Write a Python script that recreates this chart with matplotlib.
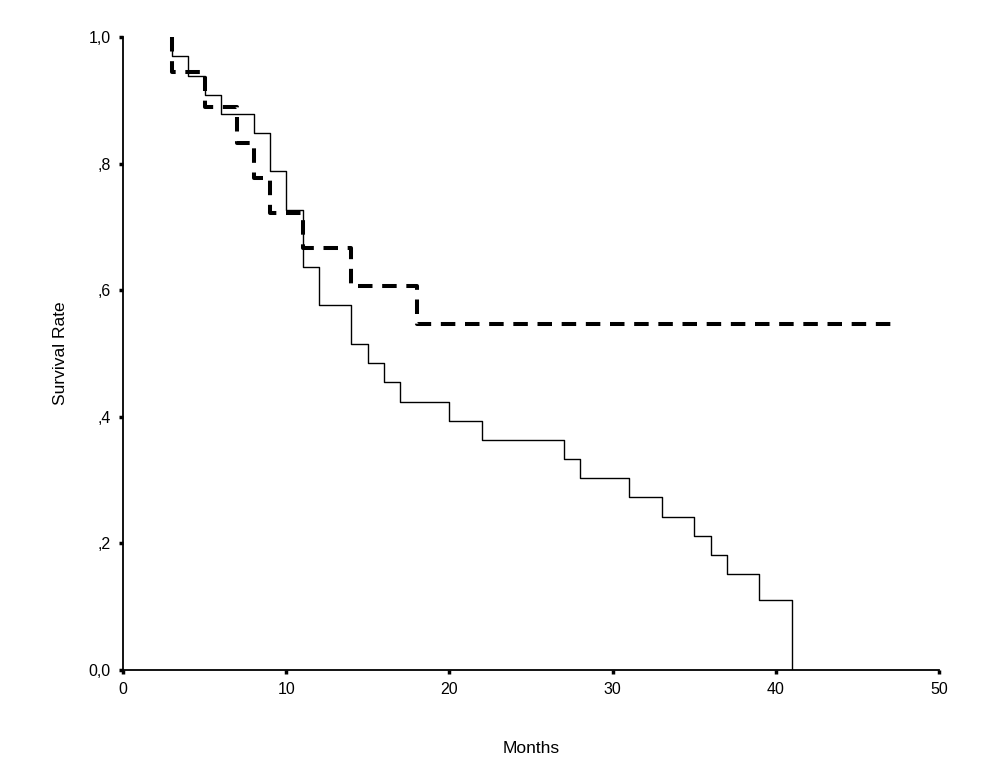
import matplotlib
matplotlib.use('Agg')
import matplotlib.pyplot as plt
import matplotlib as mpl

mpl.rcParams['font.family'] = ['Liberation Sans', 'DejaVu Sans']
mpl.rcParams['font.size'] = 10

# Kaplan-Meier steps (months, survival after the drop)
solid_months = [3, 3, 4, 5, 6, 8, 9, 10, 11, 12, 14, 15, 16, 17, 20, 22,
                27, 28, 31, 33, 35, 36, 37, 39, 41]
solid_surv = [1.0, 0.970, 0.939, 0.909, 0.879, 0.848, 0.788, 0.727, 0.636,
              0.576, 0.515, 0.485, 0.455, 0.424, 0.394, 0.364, 0.333, 0.303,
              0.273, 0.242, 0.212, 0.182, 0.152, 0.111, 0.0]

dash_months = [3, 3, 5, 7, 8, 9, 11, 14, 18, 47.1]
dash_surv = [1.0, 0.944, 0.889, 0.833, 0.778, 0.722, 0.667, 0.606, 0.546, 0.546]

xticks = [0, 10, 20, 30, 40, 50]
yticks = [0.0, 0.2, 0.4, 0.6, 0.8, 1.0]
ytick_labels = ['0,0', ',2', ',4', ',6', ',8', '1,0']

fig = plt.figure(figsize=(9.82, 7.84), dpi=100)
ax = fig.add_axes([123/982, 1-670/784, (939-123)/982, (670-37)/784])

ax.plot(solid_months, solid_surv, drawstyle='steps-post', color='black', lw=1.0)
ax.plot(dash_months, dash_surv, drawstyle='steps-post', color='black', lw=2.9,
        linestyle=(0, (3.6, 2.4)), dash_capstyle='butt')

ax.set_xlim(0, 50)
ax.set_ylim(0, 1.0)
ax.set_xticks(xticks)
ax.set_yticks(yticks)
ax.set_yticklabels(ytick_labels)

for s in ['top', 'right']:
    ax.spines[s].set_visible(False)
for s in ['left', 'bottom']:
    ax.spines[s].set_linewidth(1.3)

ax.tick_params(direction='out', length=3, width=2.5, pad=6, labelsize=11.5)

ax.set_xlabel('Months', fontsize=12.5, labelpad=31)
ax.set_ylabel('Survival Rate', fontsize=12.5, labelpad=15)

fig.savefig('out.png', dpi=100, facecolor='white')
